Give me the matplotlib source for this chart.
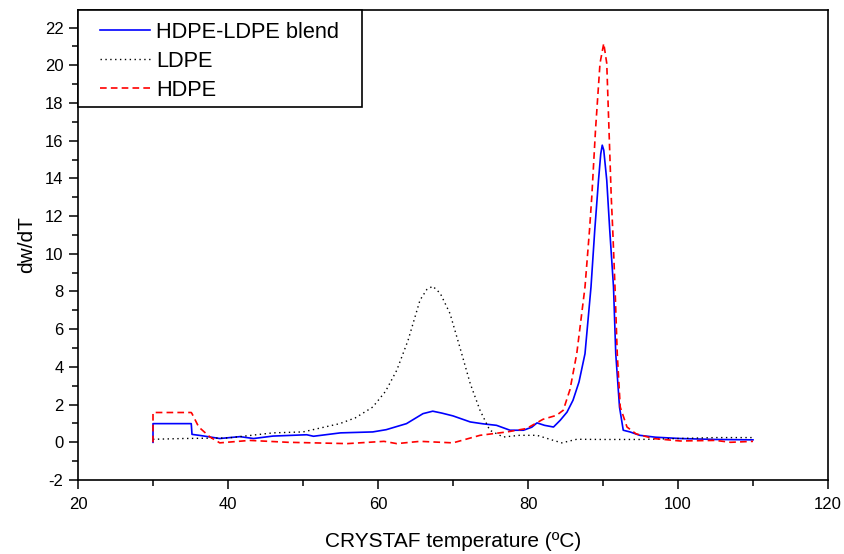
import matplotlib
matplotlib.use("Agg")
import matplotlib.pyplot as plt
from matplotlib.ticker import MultipleLocator
from matplotlib.patches import Rectangle

plt.rcParams['font.family'] = ['Liberation Sans', 'DejaVu Sans']
plt.rcParams['axes.unicode_minus'] = False

# HDPE-LDPE blend
blend_T = [30, 30, 35.1, 35.2, 36.5, 38.9, 41.6, 43.4, 46, 50.5, 51.4, 55, 59.3, 61.1,
           63.8, 66, 67.3, 68.5, 70, 72.3, 74, 75.8, 77.6, 79.4, 80.5, 81.2, 82.2, 83.4,
           84.3, 85.2, 86.0, 86.8, 87.6, 88.4, 88.9, 89.4, 89.7, 89.9, 90.1, 90.5, 90.9,
           91.4, 91.7, 92.2, 92.7, 93.6, 94.9, 97, 100.3, 105, 110]
blend_v = [0, 0.99, 0.99, 0.42, 0.35, 0.2, 0.3, 0.2, 0.33, 0.4, 0.32, 0.5, 0.55, 0.67,
           0.99, 1.52, 1.65, 1.55, 1.4, 1.08, 0.98, 0.9, 0.64, 0.64, 0.8, 1.03, 0.9, 0.81,
           1.17, 1.6, 2.23, 3.2, 4.7, 8.24, 11.25, 13.9, 15.3, 15.76, 15.5, 13.9, 11.25,
           8.24, 4.7, 1.87, 0.64, 0.55, 0.37, 0.27, 0.2, 0.15, 0.13]

# LDPE
ldpe_T = [30, 34, 40, 46, 50, 54.9, 57, 59.3, 61, 62.5, 64, 65.6, 66.5, 67.3, 68.3,
          69.6, 70.9, 72.3, 73.6, 74.9, 76.7, 78.9, 81.2, 83.4, 84.5, 86.5, 90, 95,
          100, 105, 110]
ldpe_v = [0.16, 0.2, 0.23, 0.5, 0.55, 0.99, 1.3, 1.87, 2.7, 3.82, 5.4, 7.54, 8.1, 8.28,
          7.9, 6.83, 5.06, 3.11, 1.7, 0.64, 0.28, 0.37, 0.37, 0.1, -0.03, 0.16, 0.15,
          0.15, 0.2, 0.25, 0.25]

# HDPE
hdpe_T = [30, 30, 35.1, 35.2, 36.1, 37.6, 38.9, 42.9, 48, 55.9, 60.8, 62.5, 65.6, 70,
          73.6, 77.2, 79.8, 82, 83.8, 84.7, 85.6, 86.5, 87.0, 87.6, 88.2, 88.5, 89.0,
          89.6, 90.1, 90.5, 90.8, 91.1, 91.3, 91.6, 91.9, 92.3, 93.2, 94.4, 96.7,
          100.3, 105, 107, 110]
hdpe_v = [0, 1.58, 1.58, 1.52, 0.81, 0.28, -0.03, 0.1, 0.0, -0.07, 0.05, -0.07, 0.05,
          -0.03, 0.37, 0.55, 0.73, 1.22, 1.43, 1.7, 2.8, 4.7, 6.3, 8.24, 11.25, 13.0,
          16.56, 20.1, 21.16, 20.1, 16.56, 13.0, 11.25, 8.24, 4.7, 1.87, 0.81, 0.45,
          0.2, 0.07, 0.1, 0.0, 0.05]

fig = plt.figure(figsize=(8.44, 5.54), dpi=100)
ax = fig.add_axes([78/844, 1 - 480/554, 750/844, 470/554])

ax.plot(blend_T, blend_v, color='#0000ff', lw=1.2, label='HDPE-LDPE blend')
ax.plot(ldpe_T, ldpe_v, color='black', lw=1.0, linestyle=(0, (1, 2.5)), label='LDPE')
ax.plot(hdpe_T, hdpe_v, color='#ff0000', lw=1.2, linestyle=(0, (4, 2.5)), label='HDPE')

ax.set_xlim(20, 120)
ax.set_ylim(-2, 22.93)
ax.xaxis.set_major_locator(MultipleLocator(20))
ax.xaxis.set_minor_locator(MultipleLocator(10))
ax.yaxis.set_major_locator(MultipleLocator(2))
ax.yaxis.set_minor_locator(MultipleLocator(1))
ax.tick_params(which='major', direction='out', length=6.5, width=1.1, labelsize=12,
               top=False, right=False, pad=4)
ax.tick_params(axis='x', which='major', pad=6)
ax.tick_params(which='minor', direction='out', length=4.3, width=1.1, top=False, right=False)
for s in ax.spines.values():
    s.set_linewidth(1.2)

ax.set_xlabel('CRYSTAF temperature (ºC)', fontsize=15, labelpad=14)
ax.set_ylabel('dw/dT', fontsize=15, labelpad=6)

# legend frame
ax.add_patch(Rectangle((0, (480 - 107) / 470), 284 / 750, 97 / 470, transform=ax.transAxes,
                       facecolor='white', edgecolor='black', lw=1.2, zorder=4, clip_on=False))
leg = ax.legend(loc='upper left', bbox_to_anchor=(100/844, 1 - 21.5/554),
                bbox_transform=fig.transFigure, borderaxespad=0, borderpad=0,
                fontsize=15.7, frameon=False, handlelength=2.28, handletextpad=0.28,
                labelspacing=0.38)
leg.set_zorder(5)

fig.savefig('out.png', dpi=100)
